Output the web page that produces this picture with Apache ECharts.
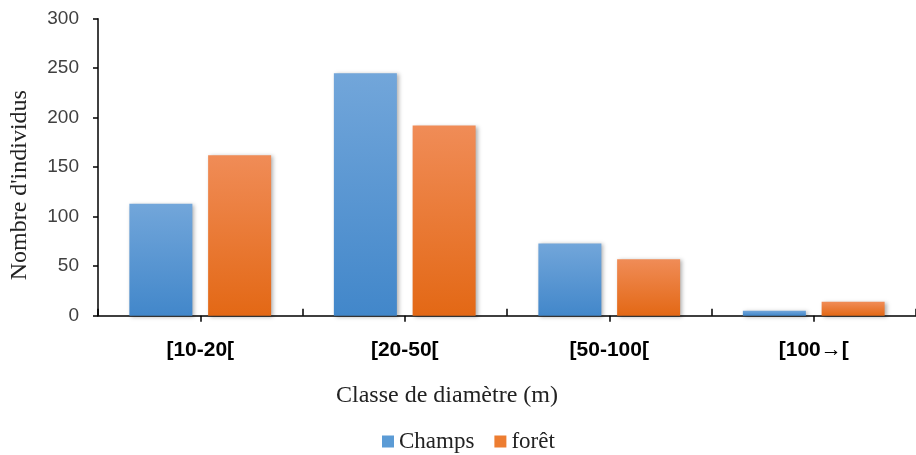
<!DOCTYPE html>
<html>
<head>
<meta charset="utf-8">
<script src="https://cdn.jsdelivr.net/npm/echarts@6/dist/echarts.min.js"></script>
<style>html,body{margin:0;padding:0;background:#fff}#c{width:916px;height:455px}</style>
</head>
<body>
<div id="c"></div>
<script>
var categories = ['[10-20[', '[20-50[', '[50-100[', '[100\u2192['];
var champs = [113, 245, 73, 5];
var foret = [162, 192, 57, 14];
var yTicks = [0, 50, 100, 150, 200, 250, 300];

var chart = echarts.init(document.getElementById('c'));
function grad(top, bottom) {
  return new echarts.graphic.LinearGradient(0, 0, 0, 1, [
    {offset: 0, color: top}, {offset: 1, color: bottom}
  ]);
}
var serif = '"Liberation Serif", "Times New Roman", serif';
chart.setOption({
  animation: false,
  grid: {left: 98, right: 0, top: 18.7, bottom: 139.3},
  legend: {
    bottom: -3,
    left: 377,
    itemWidth: 12, itemHeight: 12, itemGap: 20,
    icon: 'rect',
    textStyle: {fontFamily: serif, fontSize: 23, color: '#222'},
    data: [
      {name: 'Champs', itemStyle: {color: '#5b9bd5'}},
      {name: 'forêt', itemStyle: {color: '#ed7d31'}}
    ]
  },
  xAxis: [{
    type: 'category',
    data: categories,
    position: 'bottom',
    name: 'Classe de diamètre (m)',
    nameLocation: 'middle',
    nameGap: 68,
    nameTextStyle: {fontFamily: serif, fontSize: 24, color: '#222', padding: [0, 120, 0, 0]},
    axisLine: {show: true, lineStyle: {color: '#000', width: 1.5}},
    axisTick: {show: true, alignWithLabel: true, interval: 0, length: 6, lineStyle: {color: '#000', width: 1.5}},
    axisLabel: {fontFamily: 'Liberation Sans, Arial, sans-serif', fontWeight: 'bold', fontSize: 21, color: '#000', margin: 24}
  }, {
    type: 'category',
    data: categories,
    position: 'bottom',
    axisLine: {show: false},
    axisTick: {show: true, inside: true, interval: 0, length: 7, lineStyle: {color: '#000', width: 1.5}},
    axisLabel: {show: false}
  }],
  yAxis: {
    type: 'value',
    min: yTicks[0], max: yTicks[yTicks.length - 1], interval: 50,
    name: "Nombre d'individus",
    nameLocation: 'middle',
    nameGap: 66,
    nameTextStyle: {fontFamily: serif, fontSize: 24, color: '#222', padding: [0, 36, 0, 0]},
    axisLine: {show: true, lineStyle: {color: '#000', width: 1.5}},
    axisTick: {show: true, length: 5, lineStyle: {color: '#000', width: 1.5}},
    splitLine: {show: false},
    axisLabel: {fontFamily: 'Liberation Sans, Arial, sans-serif', fontSize: 19, color: '#404040', margin: 19}
  },
  series: [{
    name: 'Champs', type: 'bar', data: champs, barWidth: 63, barGap: '25%',
    itemStyle: {color: grad('#72a6da', '#4287ca'), shadowColor: 'rgba(0,0,0,0.3)', shadowBlur: 4, shadowOffsetX: 2, shadowOffsetY: 1}
  }, {
    name: 'forêt', type: 'bar', data: foret, barWidth: 63,
    itemStyle: {color: grad('#f08c57', '#e36815'), shadowColor: 'rgba(0,0,0,0.3)', shadowBlur: 4, shadowOffsetX: 2, shadowOffsetY: 1}
  }]
});
</script>
</body>
</html>
